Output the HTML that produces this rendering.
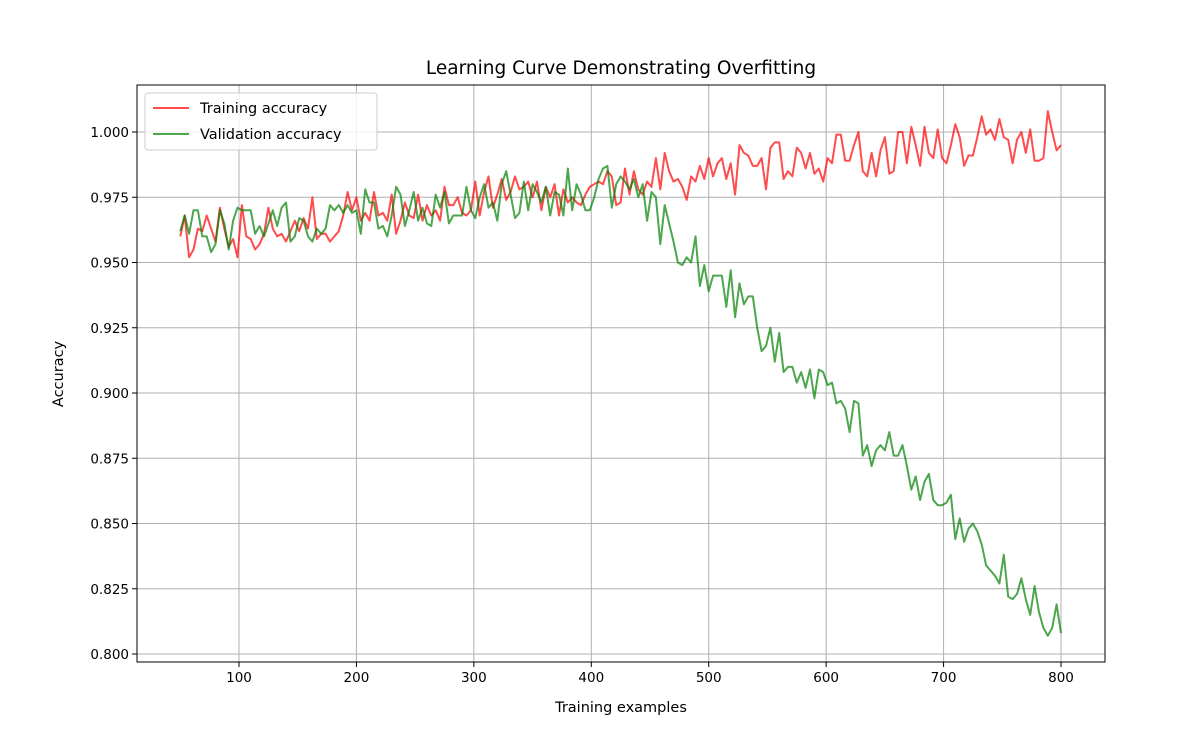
<!DOCTYPE html>
<html><head><meta charset="utf-8"><style>
html,body{margin:0;padding:0;background:#fff;}
svg{display:block;font-family:"DejaVu Sans","Liberation Sans",sans-serif;}
</style></head><body>
<svg id="chart" width="1179" height="732"></svg>
<script>
const trainAcc=[0.960,0.968,0.952,0.955,0.963,0.962,0.968,0.963,0.958,0.971,0.963,0.956,0.959,0.952,
0.972,0.960,0.959,0.955,0.957,0.961,0.971,0.963,0.960,0.961,0.958,0.962,0.966,0.962,0.967,0.963,0.975,0.959,0.961,0.961,0.958,0.960,0.962,0.968,0.977,0.970,0.975,
0.966,0.969,0.966,0.977,0.968,0.969,0.966,0.976,0.961,0.966,0.973,0.968,0.967,0.976,0.966,0.972,0.968,0.970,0.966,0.979,0.972,0.972,0.975,0.969,0.968,0.970,
0.981,0.968,0.977,0.983,0.971,0.976,0.982,0.974,0.977,0.983,0.978,0.979,0.981,0.975,0.981,0.970,0.979,0.975,0.980,0.968,0.978,0.973,0.975,0.973,0.972,0.976,0.979,
0.980,0.981,0.980,0.985,0.983,0.972,0.973,0.986,0.976,0.985,0.978,0.976,0.981,0.979,0.990,0.978,0.992,0.985,0.981,0.982,0.979,0.974,0.983,0.981,0.987,0.982,0.990,
0.983,0.988,0.990,0.982,0.988,0.976,0.995,0.992,0.991,0.987,0.987,0.990,0.978,0.994,0.996,0.996,0.982,0.985,0.983,0.994,0.992,0.986,0.992,0.984,0.986,0.981,0.990,0.988,
0.999,0.999,0.989,0.989,0.995,1.000,0.985,0.983,0.992,0.983,0.993,0.998,0.984,0.985,1.000,1.000,0.988,1.002,0.995,0.987,1.002,0.992,0.990,1.001,0.990,0.988,
0.995,1.003,0.998,0.987,0.991,0.991,0.998,1.006,0.999,1.001,0.997,1.005,0.998,0.997,0.988,0.997,1.000,0.992,1.001,0.989,0.989,0.990,1.008,1.000,0.993,0.995];
const valAcc=[0.962,0.968,0.961,0.970,0.970,0.960,0.960,0.954,0.957,0.970,0.965,0.955,0.966,0.971,
0.970,0.970,0.970,0.961,0.964,0.960,0.965,0.970,0.964,0.971,0.973,0.958,0.960,0.967,0.966,0.960,0.958,0.963,0.961,0.963,0.972,0.970,0.972,0.969,0.972,0.969,0.970,
0.961,0.978,0.973,0.973,0.963,0.964,0.960,0.968,0.979,0.976,0.964,0.970,0.977,0.966,0.971,0.965,0.964,0.976,0.971,0.977,0.965,0.968,0.968,0.968,0.979,0.970,
0.967,0.975,0.980,0.971,0.973,0.966,0.980,0.985,0.976,0.967,0.969,0.981,0.970,0.980,0.977,0.973,0.979,0.968,0.977,0.976,0.968,0.986,0.970,0.980,0.976,0.970,0.970,
0.975,0.982,0.986,0.987,0.971,0.980,0.983,0.981,0.978,0.982,0.975,0.980,0.966,0.977,0.975,0.957,0.972,0.965,0.958,0.950,0.949,0.952,0.950,0.960,0.941,0.949,
0.939,0.945,0.945,0.945,0.933,0.947,0.929,0.942,0.934,0.937,0.937,0.925,0.916,0.918,0.925,0.912,0.923,0.908,0.910,0.910,0.904,0.908,0.902,0.909,0.898,0.909,0.908,
0.903,0.904,0.896,0.897,0.894,0.885,0.897,0.896,0.876,0.880,0.872,0.878,0.880,0.878,0.885,0.876,0.876,0.880,0.872,0.863,0.868,0.859,0.866,0.869,0.859,0.857,
0.857,0.858,0.861,0.844,0.852,0.843,0.848,0.850,0.847,0.842,0.834,0.832,0.830,0.827,0.838,0.822,0.821,0.823,0.829,0.821,0.815,0.826,0.816,0.810,0.807,0.810,0.819,0.808];
const xStart=50, xEnd=800;
const xTicks=[100,200,300,400,500,600,700,800];
const yTicks=[0.800,0.825,0.850,0.875,0.900,0.925,0.950,0.975,1.000];

const NS='http://www.w3.org/2000/svg';
const svg=document.getElementById('chart');
const L=137,R=1105,T=85,B=662;
function xS(v){return 239+(v-100)*(822/700);}
function yS(v){return 132+(1.0-v)*(522/0.2);}
function mk(tag,attrs,parent){const e=document.createElementNS(NS,tag);for(const k in attrs)e.setAttribute(k,attrs[k]);(parent||svg).appendChild(e);return e;}

const grid=mk('g',{});


xTicks.forEach(t=>{const x=xS(t);
 const l=mk('line',{x1:x,x2:x,y1:T,y2:B,stroke:'#b0b0b0','stroke-width':1},grid);
 
 
 mk('line',{x1:x,x2:x,y1:B,y2:B+5,stroke:'#000','stroke-width':1});
 const tx=mk('text',{x:x,y:B+20,'text-anchor':'middle','font-size':13.5});
 tx.textContent=t;
 
 
});
yTicks.forEach(t=>{const y=yS(t);
 const l=mk('line',{x1:L,x2:R,y1:y,y2:y,stroke:'#b0b0b0','stroke-width':1},grid);
 
 
 mk('line',{x1:L-5,x2:L,y1:y,y2:y,stroke:'#000','stroke-width':1});
 const tx=mk('text',{x:L-8,y:y+5,'text-anchor':'end','font-size':13.5});
 tx.textContent=t.toFixed(3);
 
 
});
function series(arr,color,name){
 const n=arr.length;
 const pts=arr.map((v,i)=>xS(xStart+i*(xEnd-xStart)/(n-1)).toFixed(1)+','+yS(v).toFixed(1)).join(' ');
 const p=mk('polyline',{points:pts,fill:'none',stroke:color,'stroke-width':2,'stroke-opacity':0.7,'stroke-linejoin':'round'});
 
 
}
series(trainAcc,'#ff0000','training-accuracy-line');
series(valAcc,'#008000','validation-accuracy-line');
const frame=mk('rect',{x:L,y:T,width:R-L,height:B-T,fill:'none',stroke:'#000','stroke-width':1});


const title=mk('text',{x:621,y:74,'text-anchor':'middle','font-size':18.5});
title.textContent='Learning Curve Demonstrating Overfitting';


const xt=mk('text',{x:621,y:712,'text-anchor':'middle','font-size':14.5});
xt.textContent='Training examples';


const yt=mk('text',{x:0,y:0,'text-anchor':'middle','font-size':14.5,transform:'translate(63,374) rotate(-90)'});
yt.textContent='Accuracy';


const lg=mk('g',{});


mk('rect',{x:145,y:93,width:232,height:57,rx:3,fill:'#fff','fill-opacity':0.8,stroke:'#ccc'},lg);
[['Training accuracy','#ff0000',108,'legend-entry-training'],['Validation accuracy','#008000',134,'legend-entry-validation']].forEach(e=>{
 const g=mk('g',{},lg);
 
 
 mk('line',{x1:153,x2:189,y1:e[2],y2:e[2],stroke:e[1],'stroke-width':2,'stroke-opacity':0.7},g);
 const t=mk('text',{x:200,y:e[2]+5,'font-size':14.5},g);
 t.textContent=e[0];
});
</script>
</body></html>
